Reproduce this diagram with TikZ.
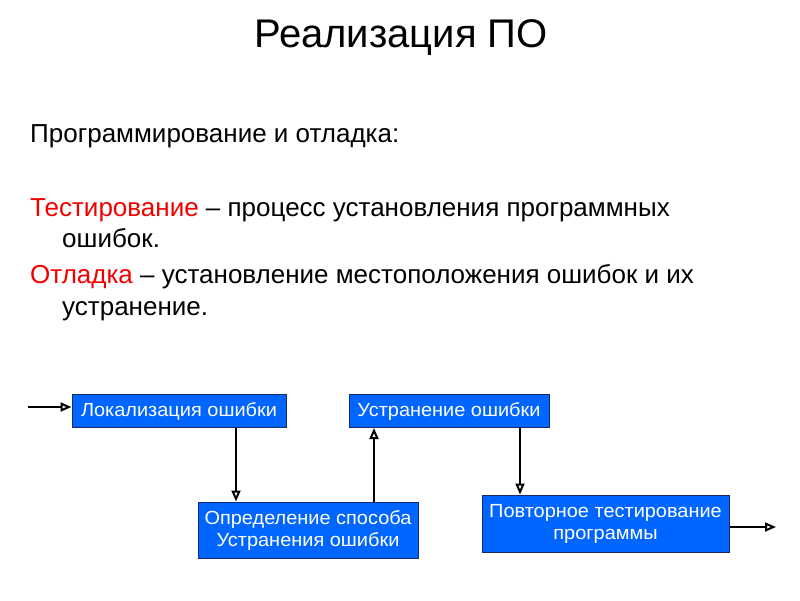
\documentclass[tikz,border=0pt]{standalone}
\usepackage{fontspec}
\setmainfont{Liberation Sans}
\newfontfamily\boxfont[FakeStretch=1.05]{Liberation Sans}
\usepackage{tikz}
\usetikzlibrary{
  arrows.meta,
  positioning,
  calc
}
\definecolor{poBox}{HTML}{0066FF}
\definecolor{poEdge}{HTML}{1A2A6C}
\definecolor{poRed}{HTML}{F00000}
\tikzset{
  stagebox/.style={
    draw=poEdge, fill=poBox, text=white, line width=1pt,
    inner sep=0pt, align=center,
    font=\boxfont\fontsize{19}{22}\selectfont
  },
  bodytext/.style={anchor=base west, inner sep=0pt,
    font=\fontsize{26}{30}\selectfont},
  flow/.style={-{Triangle[open, length=11pt, width=9pt]}, line width=2pt, black}
}

\begin{document}
\begin{tikzpicture}[x=1pt, y=-1pt]
  \useasboundingbox (0,0) rectangle (800,600);

  % heading and text
  \node[inner sep=0pt, anchor=base, font=\fontsize{40}{46}\selectfont]
    (title) at (401,47) {Реализация ПО};
  \node[bodytext] (intro) at (30,142) {Программирование и отладка:};
  \node[bodytext] (test1) at (30,216)
    {\textcolor{poRed}{Тестирование} – процесс установления программных};
  \node[bodytext] (test2) at (62,247) {ошибок.};
  \node[bodytext] (debug1) at (30,283)
    {\textcolor{poRed}{Отладка} – установление местоположения ошибок и их};
  \node[bodytext] (debug2) at (62,315) {устранение.};

  % stages
  \node[stagebox, minimum width=214, minimum height=33]
    (locate) at (179,411) {Локализация ошибки};
  \node[stagebox, minimum width=200, minimum height=33]
    (remove) at (449,411) {Устранение ошибки};
  \node[stagebox, minimum width=220, minimum height=56]
    (method) at (308,530) {Определение способа\\Устранения ошибки};
  \node[stagebox, minimum width=247, minimum height=57]
    (retest) at (605.5,523.5) {Повторное тестирование\\программы};

  \coordinate (start) at (28,407);
  \coordinate (finish) at (776,527);
  \coordinate (downA) at (236,0);
  \coordinate (upB) at (374,0);
  \coordinate (downC) at (520,0);

  \draw[flow] (start) -- (locate.west |- start);
  \draw[flow] (locate.south -| downA) -- (method.north -| downA);
  \draw[flow] (method.north -| upB) -- (remove.south -| upB);
  \draw[flow] (remove.south -| downC) -- (retest.north -| downC);
  \draw[flow] (retest.east |- finish) -- (finish);
\end{tikzpicture}
\end{document}
